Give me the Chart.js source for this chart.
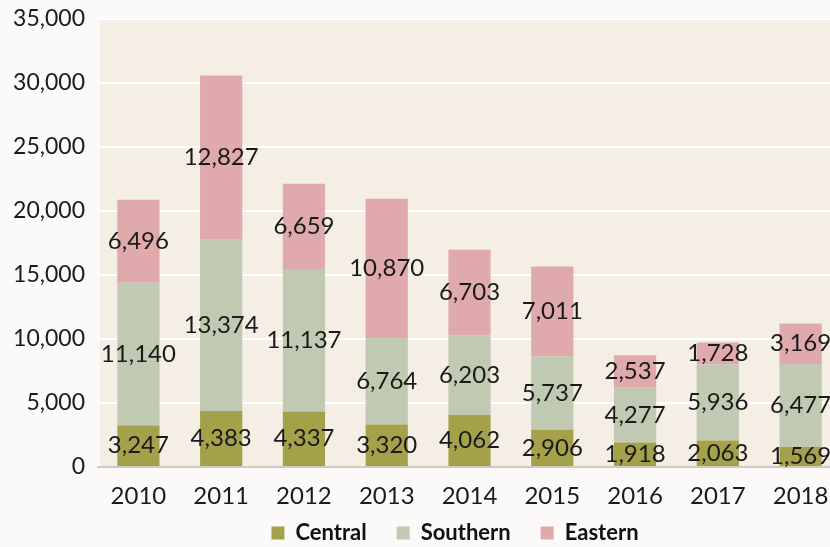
<!DOCTYPE html>
<html>
<head>
<meta charset="utf-8">
<script src="https://cdn.jsdelivr.net/npm/chart.js@4/dist/chart.umd.min.js"></script>
<style>
  html, body { margin: 0; padding: 0; background: #fbfaf8; overflow: hidden; }
  #wrap { width: 842px; height: 547px; }
</style>
</head>
<body>
<div id="wrap"><canvas id="regions" width="842" height="547"></canvas></div>
<script>
var years = ["2010", "2011", "2012", "2013", "2014", "2015", "2016", "2017", "2018"];
var central = [3247, 4383, 4337, 3320, 4062, 2906, 1918, 2063, 1569];
var southern = [11140, 13374, 11137, 6764, 6203, 5737, 4277, 5936, 6477];
var eastern = [6496, 12827, 6659, 10870, 6703, 7011, 2537, 1728, 3169];
var yTicks = [0, 5000, 10000, 15000, 20000, 25000, 30000, 35000];

// beige plot area
var plotBg = {
  id: 'plotBg',
  beforeDraw: function(chart) {
    var a = chart.chartArea, ctx = chart.ctx;
    ctx.save();
    ctx.fillStyle = '#f4eee5';
    ctx.fillRect(a.left + 3, a.top, a.right - a.left, a.bottom - a.top);
    ctx.restore();
  }
};

// nudge the legend up and right, like the original
var legendShift = {
  id: 'legendShift',
  afterLayout: function(chart) {
    var lg = chart.legend;
    lg.top -= 12; lg.bottom -= 12;
    lg.left += 34; lg.right += 34;
  }
};

// value labels in the middle of each segment
var segLabels = {
  id: 'segLabels',
  afterDatasetsDraw: function(chart) {
    var ctx = chart.ctx;
    ctx.save();
    ctx.font = '24px Lato';
    ctx.fillStyle = '#1a1a1a';
    ctx.textAlign = 'center';
    ctx.textBaseline = 'middle';
    chart.data.datasets.forEach(function(ds, i) {
      chart.getDatasetMeta(i).data.forEach(function(bar, j) {
        var y = (bar.y + bar.base) / 2;
        ctx.fillText(ds.data[j].toLocaleString('en-US'), bar.x, y);
      });
    });
    ctx.restore();
  }
};

var ctx = document.getElementById("regions").getContext('2d');
var myChart = new Chart(ctx, {
  type: 'bar',
  data: {
    labels: years,
    datasets: [{
      label: 'Central',
      data: central,
      backgroundColor: '#a4a14b'
    }, {
      label: 'Southern',
      data: southern,
      backgroundColor: '#c0c9b1'
    }, {
      label: 'Eastern',
      data: eastern,
      backgroundColor: '#e0a9ab'
    }]
  },
  options: {
    responsive: false,
    animation: false,
    barPercentage: 0.51,
    categoryPercentage: 1,
    layout: { padding: { top: 6, left: 0, right: 0, bottom: -19 } },
    plugins: {
      legend: {
        position: 'bottom',
        labels: {
          boxWidth: 13,
          boxHeight: 13,
          padding: 30,
          color: '#111',
          font: { family: 'Lato', size: 22, weight: 'bold' }
        }
      },
      tooltip: { enabled: false }
    },
    scales: {
      x: {
        stacked: true,
        afterFit: function(axis) { axis.height = 37; },
        grid: { display: false },
        border: { display: false },
        ticks: { color: '#1a1a1a', font: { family: 'Lato', size: 24 }, padding: 7 }
      },
      y: {
        stacked: true,
        min: 0,
        max: 35000,
        afterBuildTicks: function(axis) {
          axis.ticks = yTicks.map(function(v) { return { value: v }; });
        },
        afterFit: function(axis) { axis.width = 97; },
        grid: {
          color: function(c) { return c.tick.value === 0 ? '#cfcac2' : '#ffffff'; },
          lineWidth: 2,
          drawTicks: false
        },
        border: { display: false },
        ticks: {
          color: '#1a1a1a',
          padding: 12,
          font: { family: 'Lato', size: 23, lineHeight: 0.6 },
          callback: function(v) { return v.toLocaleString('en-US'); }
        }
      }
    }
  },
  plugins: [plotBg, legendShift, segLabels]
});
</script>
</body>
</html>
